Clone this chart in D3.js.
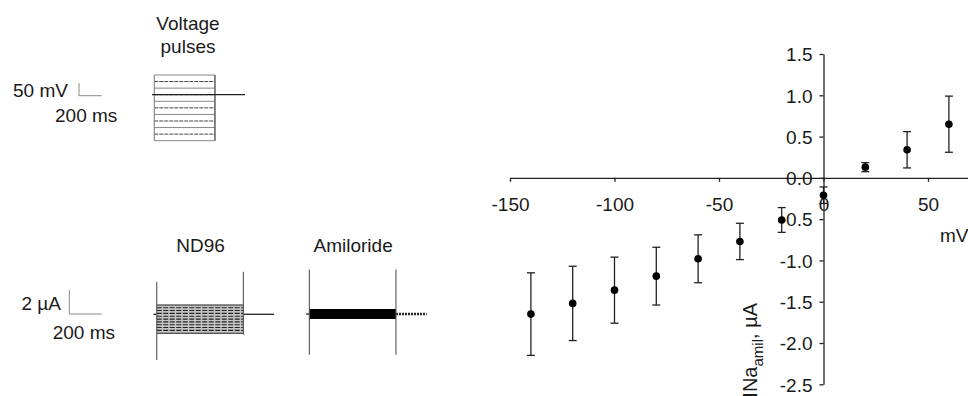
<!DOCTYPE html>
<html>
<head>
<meta charset="utf-8">
<script src="https://cdn.jsdelivr.net/npm/d3@7"></script>
<style>
  body { margin: 0; background: #fff; }
  svg { display: block; font-family: "Liberation Sans", Arial, sans-serif; }
  text { fill: #1a1a1a; }
</style>
</head>
<body>
<svg id="chart" width="968" height="396"></svg>
<script>
// I-V data (amiloride-sensitive current)
const voltages = [-140, -120, -100, -80, -60, -40, -20, 0, 20, 40, 60]
const meanCurrent = [-1.65, -1.52, -1.36, -1.19, -0.98, -0.77, -0.51, -0.21, 0.13, 0.34, 0.65]
const semCurrent = [0.5, 0.45, 0.4, 0.35, 0.29, 0.22, 0.15, 0.1, 0.055, 0.22, 0.34]
const xTicks = [-150, -100, -50, 0, 50, 100]
const yTicks = [-2.5, -2.0, -1.5, -1.0, -0.5, 0.0, 0.5, 1.0, 1.5]

// voltage protocol (mV) and timing (ms)
const stepVoltages = [60, 40, 20, 0, -20, -40, -60, -80, -100, -120, -140]
const holdingVoltage = 0
const pulseTimes = [20, 555]
const traceEnd = 820

// steady currents for recorded traces (µA)
const nd96Currents = [0.78, 0.55, 0.32, 0.08, -0.16, -0.4, -0.63, -0.87, -1.1, -1.34, -1.58]
const amilCurrents = [0.34, 0.27, 0.2, 0.13, 0.06, -0.01, -0.08, -0.15, -0.22, -0.29, -0.34]
// capacitive transients [on up, on down, off up, off down] (µA)
const nd96Spikes = [2.7, -3.8, 3.55, -1.7]
const amilSpikes = [3.7, -3.4, 3.7, -3.4]
const currentEnd = 745

const svg = d3.select("#chart")
svg.append("rect").attr("width", 968).attr("height", 396).attr("fill", "#fff")

const fontSize = 19

// ---------- left panel: voltage pulses ----------
const tV = d3.scaleLinear().domain([0, traceEnd]).range([152, 245])
const vV = d3.scaleLinear().domain([-140, 60]).range([140.7, 75])

svg.append("text").attr("x", 188).attr("y", 29.5).attr("text-anchor", "middle")
  .attr("font-size", fontSize).text("Voltage")
svg.append("text").attr("x", 188).attr("y", 53).attr("text-anchor", "middle")
  .attr("font-size", fontSize).text("pulses")

const vp = svg.append("g")
vp.selectAll("line.step")
  .data(stepVoltages)
  .enter()
  .append("line")
  .attr("class", "step")
  .attr("x1", tV(pulseTimes[0]))
  .attr("x2", tV(pulseTimes[1]))
  .attr("y1", (d) => vV(d))
  .attr("y2", (d) => vV(d))
  .attr("stroke", (d, i) => (i % 2 === 1 ? "#444" : "#888"))
  .attr("stroke-width", 1)
  .attr("stroke-dasharray", (d, i) => (i % 2 === 1 ? "4,1" : null))

// pulse edges
pulseTimes.forEach((t, i) => {
  vp.append("line")
    .attr("x1", tV(t)).attr("x2", tV(t))
    .attr("y1", vV(d3.max(stepVoltages))).attr("y2", vV(d3.min(stepVoltages)))
    .attr("stroke", i === 0 ? "#777" : "#666")
    .attr("stroke-width", i === 0 ? 1 : 1.6)
})
// holding potential
vp.append("line")
  .attr("x1", tV(0)).attr("x2", tV(traceEnd))
  .attr("y1", vV(holdingVoltage)).attr("y2", vV(holdingVoltage))
  .attr("stroke", "#222").attr("stroke-width", 1.3)

// scale bar 50 mV / 200 ms
const sb1 = svg.append("g").attr("stroke", "#888").attr("stroke-width", 1).attr("fill", "none")
sb1.append("path").attr("d", "M79,83V95.7H101.7")
svg.append("text").attr("x", 13).attr("y", 96.5).attr("font-size", fontSize).text("50 mV")
svg.append("text").attr("x", 55).attr("y", 122).attr("font-size", fontSize).text("200 ms")

// ---------- left panel: current traces ----------
function drawTrace(x0, baseline, steady, spikes, label, dense) {
  const t = d3.scaleLinear().domain([0, currentEnd]).range([x0, x0 + currentEnd * 0.1619])
  const iy = d3.scaleLinear().domain([0, 1]).range([baseline, baseline - 12])
  const g = svg.append("g")

  svg.append("text").attr("x", t(pulseTimes[0]) + (t(pulseTimes[1]) - t(pulseTimes[0])) / 2 + 0.5)
    .attr("y", 252).attr("text-anchor", "middle").attr("font-size", fontSize).text(label)

  if (!dense) {
    // grey texture between the outer current traces
    g.append("rect")
      .attr("x", t(pulseTimes[0]))
      .attr("width", t(pulseTimes[1]) - t(pulseTimes[0]))
      .attr("y", iy(d3.max(steady)))
      .attr("height", iy(d3.min(steady)) - iy(d3.max(steady)))
      .attr("fill", "#c4c4c4")
  }

  g.selectAll("line.cur")
    .data(steady)
    .enter()
    .append("line")
    .attr("class", "cur")
    .attr("x1", t(pulseTimes[0]))
    .attr("x2", t(pulseTimes[1]))
    .attr("y1", (d) => iy(d))
    .attr("y2", (d) => iy(d))
    .attr("stroke", dense ? "#000" : "#222")
    .attr("stroke-width", dense ? 1.6 : 1.1)
    .attr("stroke-dasharray", (d, i) => (dense || i === 0 || i === steady.length - 1 ? null : "5,1.5"))

  // baseline before and after pulse
  g.append("line")
    .attr("x1", t(0)).attr("x2", t(pulseTimes[0]))
    .attr("y1", iy(0)).attr("y2", iy(0))
    .attr("stroke", "#222").attr("stroke-width", 1.3)
  g.append("line")
    .attr("x1", t(pulseTimes[1])).attr("x2", t(currentEnd))
    .attr("y1", iy(0)).attr("y2", iy(0))
    .attr("stroke", "#222").attr("stroke-width", dense ? 2.6 : 1.3)
    .attr("stroke-dasharray", dense ? "2,1" : null)

  // capacitive transients
  ;[0, 1].forEach((k) => {
    g.append("line")
      .attr("x1", t(pulseTimes[k])).attr("x2", t(pulseTimes[k]))
      .attr("y1", iy(spikes[k * 2])).attr("y2", iy(spikes[k * 2 + 1]))
      .attr("stroke", "#555").attr("stroke-width", 1.1)
  })
}

drawTrace(153.5, 314.3, nd96Currents, nd96Spikes, "ND96", false)
drawTrace(306.1, 314, amilCurrents, amilSpikes, "Amiloride", true)

const sb2 = svg.append("g").attr("stroke", "#888").attr("stroke-width", 1).attr("fill", "none")
sb2.append("path").attr("d", "M69.3,290V314H101.7")
svg.append("text").attr("x", 21.5).attr("y", 310).attr("font-size", fontSize).text("2 µA")
svg.append("text").attr("x", 52.7).attr("y", 338.5).attr("font-size", fontSize).text("200 ms")

// ---------- right panel: I-V curve ----------
const x = d3.scaleLinear().domain([-150, 100]).range([510, 1032.5])
const y = d3.scaleLinear().domain([-2.5, 1.5]).range([384.3, 54])

const xAxis = svg.append("g")
  .attr("transform", `translate(0,${y(0)})`)
  .call(d3.axisBottom(x).tickValues(xTicks).tickSize(4).tickSizeOuter(0).tickPadding(16)
    .tickFormat((d) => String(d)))
xAxis.selectAll("path, line").attr("stroke", "#222").attr("stroke-width", 1.3)
xAxis.selectAll("text").attr("font-size", fontSize).attr("font-family", null).attr("fill", "#1a1a1a")

const yAxis = svg.append("g")
  .attr("transform", `translate(${x(0)},0)`)
  .call(d3.axisLeft(y).tickValues(yTicks).tickSize(4).tickSizeOuter(0).tickPadding(7)
    .tickFormat((d) => d.toFixed(1)))
yAxis.selectAll("path, line").attr("stroke", "#222").attr("stroke-width", 1.3)
yAxis.selectAll("text").attr("font-size", fontSize).attr("font-family", null).attr("fill", "#1a1a1a")
  .attr("dy", "0.36em")

// error bars
const pts = voltages.map((v, i) => ({ v, m: meanCurrent[i], e: semCurrent[i] }))
const eb = svg.append("g").attr("stroke", "#222").attr("stroke-width", 1.3)
eb.selectAll("line.bar").data(pts).enter().append("line").attr("class", "bar")
  .attr("x1", (d) => x(d.v)).attr("x2", (d) => x(d.v))
  .attr("y1", (d) => y(d.m + d.e)).attr("y2", (d) => y(d.m - d.e))
eb.selectAll("line.capT").data(pts).enter().append("line").attr("class", "capT")
  .attr("x1", (d) => x(d.v) - 4).attr("x2", (d) => x(d.v) + 4)
  .attr("y1", (d) => y(d.m + d.e)).attr("y2", (d) => y(d.m + d.e))
eb.selectAll("line.capB").data(pts).enter().append("line").attr("class", "capB")
  .attr("x1", (d) => x(d.v) - 4).attr("x2", (d) => x(d.v) + 4)
  .attr("y1", (d) => y(d.m - d.e)).attr("y2", (d) => y(d.m - d.e))

svg.selectAll(".dot")
  .data(pts)
  .enter()
  .append("circle")
  .attr("class", "dot")
  .attr("cx", (d) => x(d.v))
  .attr("cy", (d) => y(d.m))
  .attr("r", 3.8)
  .attr("fill", "#000")

svg.append("text").attr("x", 940).attr("y", 242).attr("font-size", fontSize).text("mV")

const yl = svg.append("text")
  .attr("transform", "translate(757,303) rotate(-90)")
  .attr("text-anchor", "end")
  .attr("font-size", 20)
yl.append("tspan").text("INa")
yl.append("tspan").attr("font-size", 15).attr("dy", 6).text("amil")
yl.append("tspan").attr("dy", -6).text(", µA")
</script>
</body>
</html>
